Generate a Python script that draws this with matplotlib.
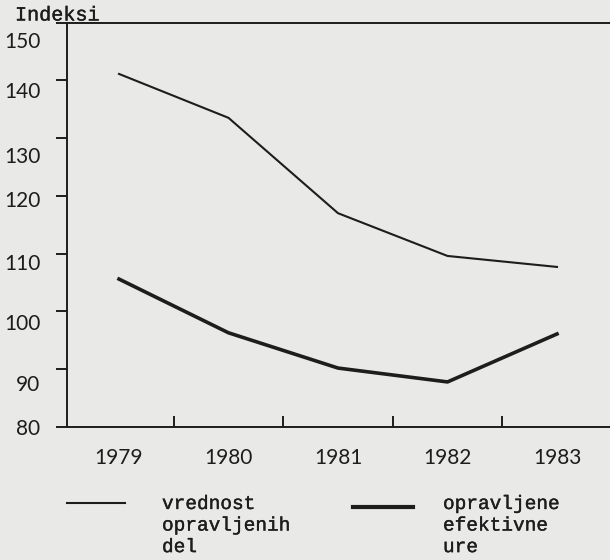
import numpy as np
import matplotlib
matplotlib.use("Agg")
import matplotlib.pyplot as plt
import matplotlib.patheffects as pe
from matplotlib.lines import Line2D
from matplotlib.transforms import ScaledTranslation

# index values
years = ["1979", "1980", "1981", "1982", "1983"]
vrednost_del = [141.1, 133.5, 117.0, 109.6, 107.7]   # thin line
efektivne_ure = [105.6, 96.3, 90.2, 87.8, 96.1]      # thick line
yticks = [80, 90, 100, 110, 120, 130, 140, 150]
legend_labels = ["vrednost\nopravljenih\ndel", "opravljene\nefektivne\nure"]

PAPER = "#e9e9e7"
INK = "#1d1d1d"
W, H = 610, 560
MONO = "Liberation Mono"
SANS = "Lato"
typed = [pe.withStroke(linewidth=0.25, foreground=INK)]  # slightly heavier typewriter ink

fig = plt.figure(figsize=(W / 100, H / 100), dpi=100, facecolor=PAPER)
ax = fig.add_axes([67 / W, 1 - 427 / H, 1 - 67 / W, (427 - 22.5) / H])
ax.set_facecolor(PAPER)

x = np.arange(len(years))
ax.plot(x, vrednost_del, color=INK, lw=1.5, solid_joinstyle="round")
ax.plot(x, efektivne_ure, color=INK, lw=2.6, solid_joinstyle="round")
ax.set_xlim(-0.475, 4.484)
ax.set_ylim(80, 150)

ax.spines["right"].set_visible(False)
for s in ("left", "top", "bottom"):
    ax.spines[s].set_linewidth(1.4)
    ax.spines[s].set_color(INK)

# x: tick marks between years (pointing up), year labels centred on points
ax.set_xticks(x[:-1] + 0.5)
ax.tick_params(axis="x", which="major", direction="in", length=8, width=1.4,
               color=INK, labelbottom=False)
ax.set_xticks(x, minor=True)
ax.set_xticklabels(years, minor=True, fontsize=15, family=SANS, color=INK)
ax.tick_params(axis="x", which="minor", length=0, pad=15)

# y: outward ticks, labels typed a little below their ticks
ax.set_yticks(yticks)
ax.set_yticklabels([str(v) for v in yticks], fontsize=15, family=SANS, color=INK)
ax.tick_params(axis="y", direction="out", length=8, width=1.4, color=INK, pad=11)
drop = {150: 18, 140: 10, 130: 17, 120: 3, 110: 8, 100: 11, 90: 14, 80: 0}
for v, lab in zip(yticks, ax.get_yticklabels()):
    lab.set_transform(lab.get_transform() +
                      ScaledTranslation(0, -drop[v] / 100, fig.dpi_scale_trans))

fig.text(15 / W, 1 - 15 / H, "Indeksi", va="center", ha="left",
         family=MONO, fontsize=14.5, color=INK, path_effects=typed)

# legend, typed below the chart
for (x0, x1, yy, lw), tx, lab in zip([(67, 125, 503, 1.5), (353, 413, 507, 3.0)],
                                     [162, 443], legend_labels):
    fig.add_artist(Line2D([x0 / W, x1 / W], [1 - yy / H] * 2,
                          transform=fig.transFigure, color=INK, lw=lw))
    fig.text(tx / W, 1 - 496 / H, lab, va="top", ha="left", family=MONO,
             fontsize=14, color=INK, linespacing=1.35, path_effects=typed)

fig.savefig("out.png", dpi=100, facecolor=PAPER)
